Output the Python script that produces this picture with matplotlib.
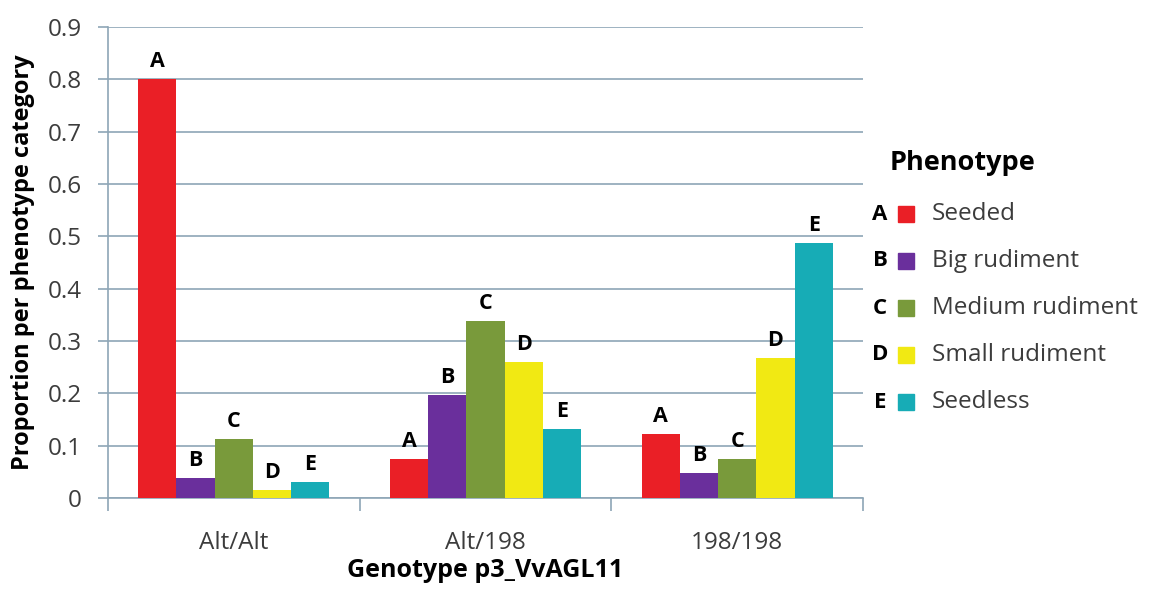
import numpy as np
import matplotlib
matplotlib.use("Agg")
import matplotlib.pyplot as plt
from matplotlib.patches import Rectangle

plt.rcParams['font.family'] = ['Open Sans', 'DejaVu Sans']

genotypes = ['Alt/Alt', 'Alt/198', '198/198']
letters = ['A', 'B', 'C', 'D', 'E']
phenotypes = ['Seeded', 'Big rudiment', 'Medium rudiment', 'Small rudiment', 'Seedless']
colors = ['#ea1f26', '#6a2f9c', '#799a3b', '#f1e913', '#17acb6']

seeded = [0.80, 0.075, 0.122]
big_rud = [0.038, 0.197, 0.047]
medium_rud = [0.113, 0.338, 0.074]
small_rud = [0.015, 0.260, 0.267]
seedless = [0.031, 0.132, 0.487]
series = [seeded, big_rud, medium_rud, small_rud, seedless]

grid_col = '#8ea6b6'
text_col = '#3c3c3c'

fig = plt.figure(figsize=(11.5, 5.9), dpi=100)
ax = fig.add_axes([108 / 1150, 1 - 498 / 590, (863 - 108) / 1150, (498 - 27) / 590])

x = np.arange(len(genotypes))
w = 0.152
for i, vals in enumerate(series):
    pos = x + (i - 2) * w
    ax.bar(pos, vals, width=w, color=colors[i], zorder=3)
    for px, v in zip(pos, vals):
        ax.annotate(letters[i], (px, v), xytext=(0, 5), textcoords='offset points',
                    ha='center', va='bottom', fontsize=15.5, fontweight='bold', color='black')

ax.set_ylim(0, 0.9)
ax.set_xlim(-0.5, 2.5)
ax.set_yticks(np.arange(0, 0.91, 0.1))
ax.set_yticklabels(['0'] + ['%.1f' % t for t in np.arange(0.1, 0.91, 0.1)])
ax.yaxis.grid(True, color=grid_col, linewidth=1.2, zorder=0)
ax.set_axisbelow(True)

ax.set_xticks([-0.5, 0.5, 1.5, 2.5])
ax.set_xticklabels([])
ax.set_xticks(x, minor=True)
ax.set_xticklabels(genotypes, minor=True)
ax.tick_params(axis='x', which='major', length=9, color=grid_col, width=1.2)
ax.tick_params(axis='x', which='minor', length=0, pad=24, labelsize=17.5, labelcolor=text_col)
ax.tick_params(axis='y', length=7, color=grid_col, width=1.2, labelsize=17.5, labelcolor=text_col, pad=12)

for s in ['top', 'right']:
    ax.spines[s].set_visible(False)
for s in ['left', 'bottom']:
    ax.spines[s].set_color(grid_col)
    ax.spines[s].set_linewidth(1.2)

ax.set_ylabel('Proportion per phenotype category', fontsize=17, fontweight='bold', color='black', labelpad=9)
ax.set_xlabel('Genotype p3_VvAGL11', fontsize=18, fontweight='bold', color='black', labelpad=2)

# legend drawn by hand: letter, colour square, name
fig.text(890 / 1150, 1 - 163 / 590, 'Phenotype', fontsize=19.5, fontweight='bold',
         ha='left', va='center', color='black')
for i in range(len(letters)):
    yc = 214 + 47 * i
    fy = 1 - yc / 590
    fig.text(880 / 1150, fy, letters[i], fontsize=16, fontweight='bold', ha='center', va='center')
    fig.patches.append(Rectangle((898 / 1150, 1 - (yc + 8) / 590), 16 / 1150, 16 / 590,
                                 transform=fig.transFigure, color=colors[i], figure=fig))
    fig.text(932 / 1150, fy, phenotypes[i], fontsize=17.5, ha='left', va='center', color=text_col)

fig.savefig('out.png', dpi=100)
